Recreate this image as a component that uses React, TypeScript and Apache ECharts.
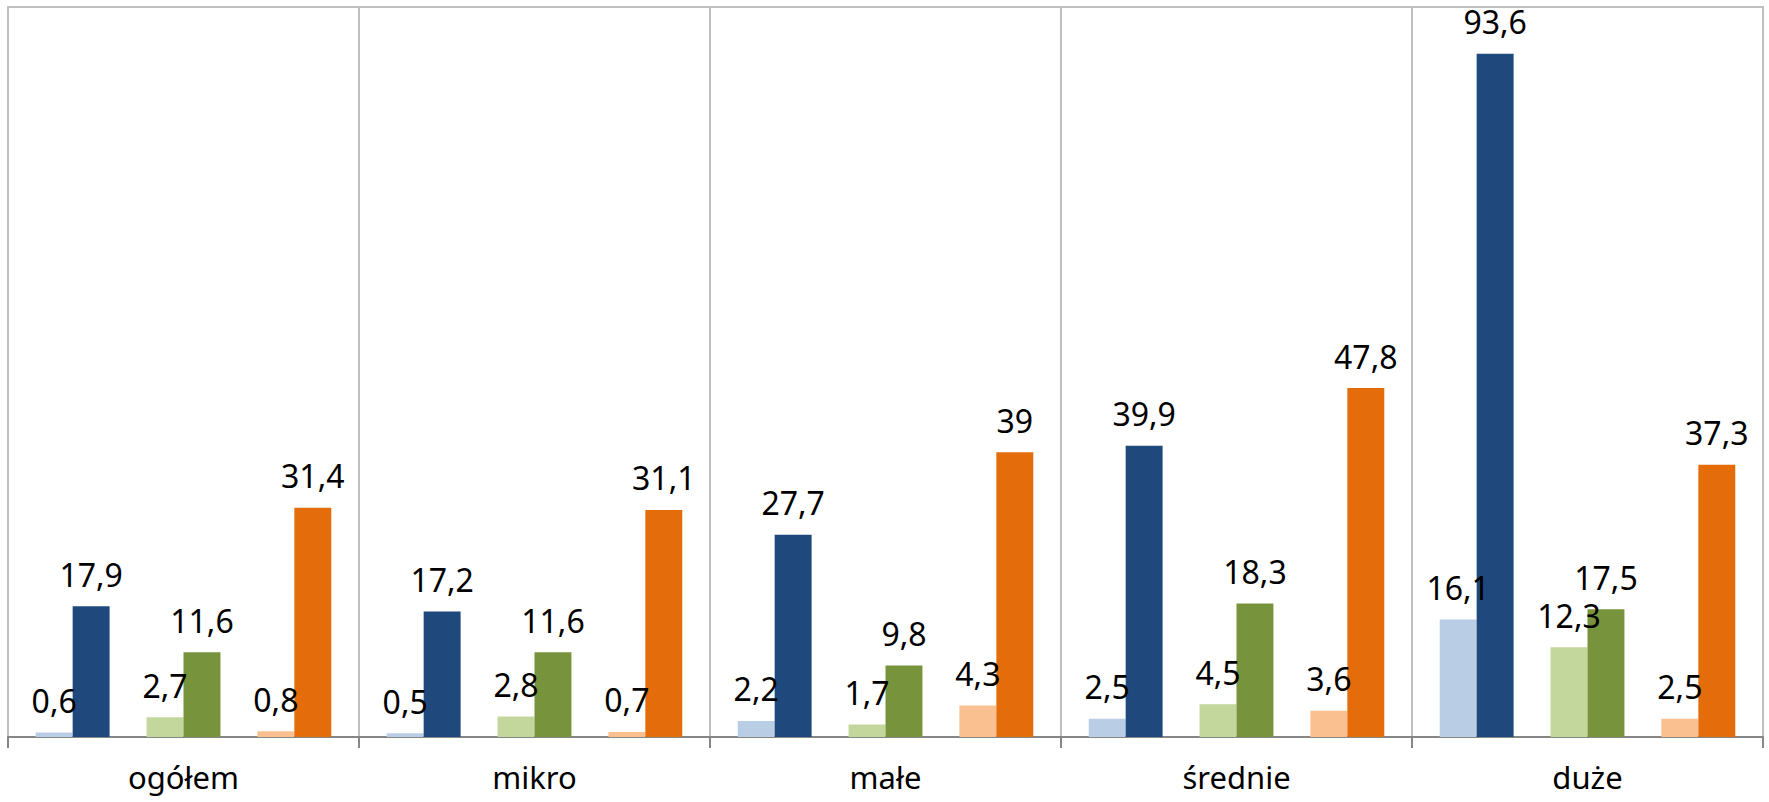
import React, { useEffect, useRef } from "react";
import * as echarts from "echarts";

const categories = ["ogółem", "mikro", "małe", "średnie", "duże"];
const seriesA1 = [0.6, 0.5, 2.2, 2.5, 16.1];
const seriesA2 = [17.9, 17.2, 27.7, 39.9, 93.6];
const seriesB1 = [2.7, 2.8, 1.7, 4.5, 12.3];
const seriesB2 = [11.6, 11.6, 9.8, 18.3, 17.5];
const seriesC1 = [0.8, 0.7, 4.3, 3.6, 2.5];
const seriesC2 = [31.4, 31.1, 39, 47.8, 37.3];
const spacer = [null, null, null, null, null];

const colors = {
  a1: "#B9CDE5",
  a2: "#1F497D",
  b1: "#C3D69B",
  b2: "#77933C",
  c1: "#FAC090",
  c2: "#E46C0A",
};

const FONT = "Noto Sans";

export default function App() {
  const ref = useRef<HTMLDivElement>(null);
  useEffect(() => {
    if (!ref.current) return;
    const chart = echarts.init(ref.current, undefined, { renderer: "svg" });
    const label = {
      show: true,
      position: "top",
      distance: 16,
      color: "#000",
      fontFamily: FONT,
      fontSize: 32,
      formatter: (p: any) => String(p.value).replace(".", ","),
    };
    const mk = (name: string, data: any[], color: string) => ({
      name,
      type: "bar",
      data,
      itemStyle: { color },
      label,
      barGap: "0%",
      barCategoryGap: "15.79%",
    });
    const gap = (name: string) => ({
      name,
      type: "bar",
      data: spacer,
      itemStyle: { color: "transparent" },
      barGap: "0%",
      barCategoryGap: "15.79%",
    });
    chart.setOption({
      animation: false,
      backgroundColor: "#fff",
      grid: {
        show: true,
        left: 8,
        right: 6,
        top: 7,
        bottom: 65,
        borderColor: "#BFBFBF",
        borderWidth: 2,
        containLabel: false,
      },
      xAxis: {
        type: "category",
        data: categories,
        boundaryGap: true,
        axisLine: { show: true, lineStyle: { color: "#868686", width: 2 } },
        axisTick: { show: true, interval: 0, length: 11, lineStyle: { color: "#868686", width: 2 } },
        splitLine: { show: true, interval: 0, lineStyle: { color: "#BFBFBF", width: 2 } },
        axisLabel: {
          interval: 0,
          margin: 24,
          color: "#000",
          fontFamily: FONT,
          fontSize: 31,
          lineHeight: 32,
        },
      },
      yAxis: {
        type: "value",
        min: 0,
        max: 100,
        show: false,
        splitLine: { show: false },
      },
      series: [
        mk("seria A1", seriesA1, colors.a1),
        mk("seria A2", seriesA2, colors.a2),
        gap("odstęp 1"),
        mk("seria B1", seriesB1, colors.b1),
        mk("seria B2", seriesB2, colors.b2),
        gap("odstęp 2"),
        mk("seria C1", seriesC1, colors.c1),
        mk("seria C2", seriesC2, colors.c2),
      ],
    });
    return () => chart.dispose();
  }, []);
  return (
    <div
      ref={ref}
      style={{ position: "absolute", left: 0, top: 0, width: 1769, height: 802, background: "#fff" }}
    />
  );
}
